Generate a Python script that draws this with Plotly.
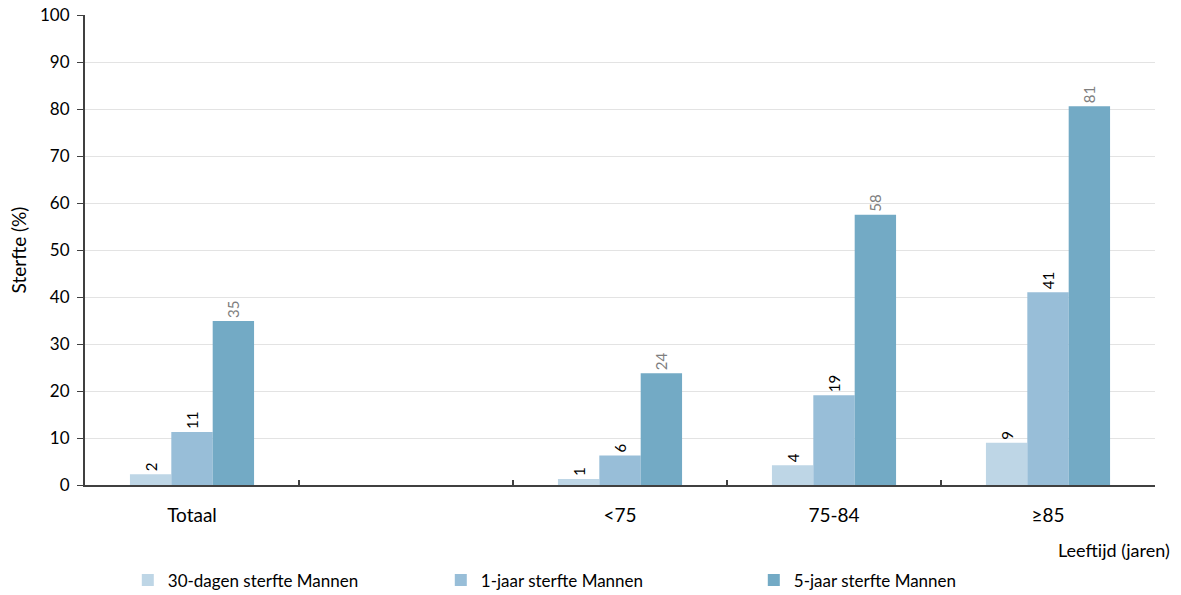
import plotly.graph_objects as go

categories = ["Totaal", " ", "<75", "75-84", "≥85"]
series_names = ["30-dagen sterfte Mannen", "1-jaar sterfte Mannen", "5-jaar sterfte Mannen"]
dagen30 = [2.3, None, 1.3, 4.2, 9.0]
jaar1 = [11.3, None, 6.3, 19.1, 41.0]
jaar5 = [34.9, None, 23.8, 57.5, 80.6]
colors = ["#BED6E6", "#98BED8", "#73AAC5"]
label_colors = ["#000000", "#000000", "#7F7F7F"]
y_ticks = [0, 10, 20, 30, 40, 50, 60, 70, 80, 90, 100]

FONT = "Lato"

fig = go.Figure()
for name, vals, col, lc in zip(series_names, [dagen30, jaar1, jaar5], colors, label_colors):
    fig.add_trace(go.Bar(
        x=categories, y=vals, name=name,
        marker=dict(color=col, line=dict(width=0)),
        text=[None if v is None else f"{round(v):d}" for v in vals],
        textposition="outside", textangle=-90,
        textfont=dict(family=FONT, size=15, color=lc),
        cliponaxis=False,
    ))

fig.update_layout(
    width=1181, height=595,
    margin=dict(l=85, r=26, t=15, b=110, autoexpand=False),
    paper_bgcolor="white", plot_bgcolor="white",
    barmode="group", bargap=0.42, bargroupgap=0,
    font=dict(family=FONT, size=16, color="#000000"),
    showlegend=True,
    legend=dict(orientation="h", x=0.040, xanchor="left", y=-0.165, yanchor="top",
                font=dict(family=FONT, size=17, color="#000000"),
                entrywidth=268, entrywidthmode="pixels",
                itemwidth=30, traceorder="normal"),
    xaxis=dict(
        type="category", categoryorder="array", categoryarray=categories,
        showline=True, linecolor="#404040", linewidth=2,
        ticks="inside", tickson="boundaries", ticklen=5, tickwidth=2, tickcolor="#404040",
        showgrid=False, tickfont=dict(family=FONT, size=19, color="#000000"),
        ticklabelstandoff=12,
    ),
    yaxis=dict(
        range=[0, 100], tickvals=y_ticks,
        showline=True, linecolor="#404040", linewidth=2,
        ticks="outside", ticklen=6, tickwidth=1, tickcolor="#404040",
        showgrid=True, gridcolor="#E3E3E3", gridwidth=1,
        zeroline=False,
        tickfont=dict(family=FONT, size=17, color="#000000"),
        ticklabelstandoff=4,
        title=dict(text="Sterfte (%)", font=dict(family=FONT, size=19, color="#000000"), standoff=8),
    ),
    annotations=[dict(
        text="Leeftijd (jaren)", xref="paper", yref="paper",
        x=1.016, xanchor="right", y=-0.11, yanchor="top", showarrow=False,
        font=dict(family=FONT, size=18, color="#000000"),
    )],
)

fig.write_html("out.html", config={"displayModeBar": False},
               post_script="document.body.style.margin='0';document.body.style.overflow='hidden';")
